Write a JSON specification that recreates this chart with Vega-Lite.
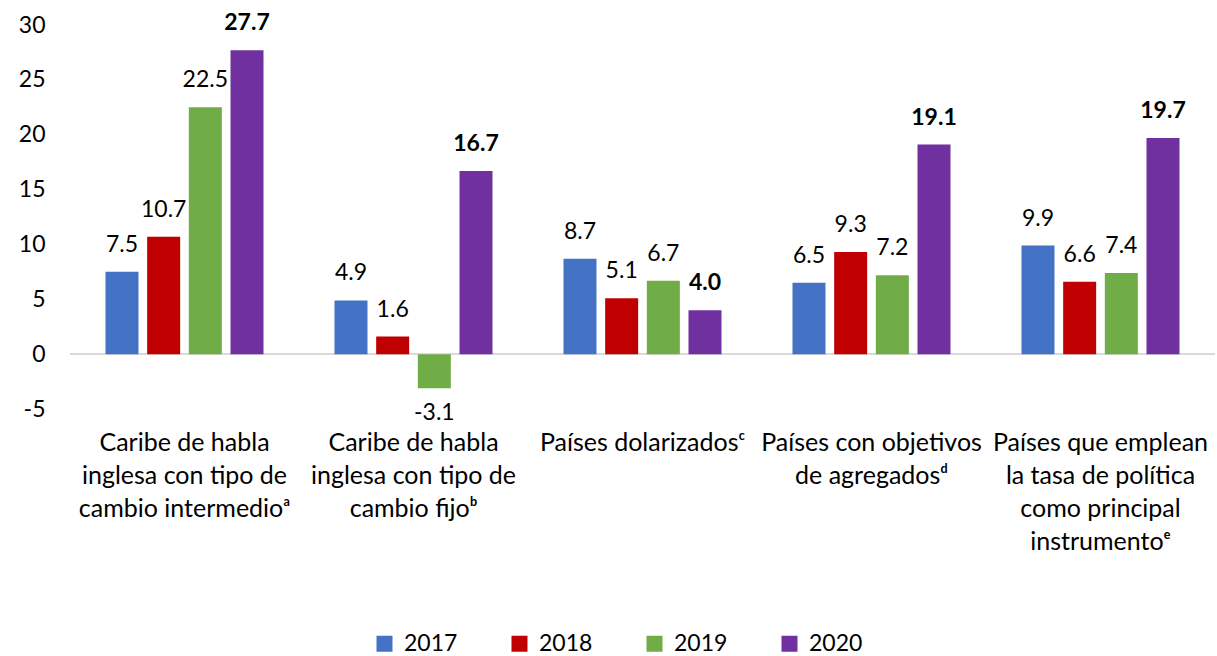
{
  "$schema": "https://vega.github.io/schema/vega-lite/v6.json",
  "width": 1145,
  "height": 384,
  "autosize": {"type": "none"},
  "padding": {"left": 70, "top": 25, "right": 2, "bottom": 247},
  "background": "white",
  "config": {
    "view": {"stroke": null},
    "font": "Lato",
    "axis": {"labelFont": "Lato", "labelColor": "#000000"},
    "legend": {"labelFont": "Lato"}
  },
  "data": {
    "values": [
      {"cat": "Caribe de habla|inglesa con tipo de|cambio intermedioᵃ", "year": "2017", "value": 7.5},
      {"cat": "Caribe de habla|inglesa con tipo de|cambio intermedioᵃ", "year": "2018", "value": 10.7},
      {"cat": "Caribe de habla|inglesa con tipo de|cambio intermedioᵃ", "year": "2019", "value": 22.5},
      {"cat": "Caribe de habla|inglesa con tipo de|cambio intermedioᵃ", "year": "2020", "value": 27.7},
      {"cat": "Caribe de habla|inglesa con tipo de|cambio fijoᵇ", "year": "2017", "value": 4.9},
      {"cat": "Caribe de habla|inglesa con tipo de|cambio fijoᵇ", "year": "2018", "value": 1.6},
      {"cat": "Caribe de habla|inglesa con tipo de|cambio fijoᵇ", "year": "2019", "value": -3.1},
      {"cat": "Caribe de habla|inglesa con tipo de|cambio fijoᵇ", "year": "2020", "value": 16.7},
      {"cat": "Países dolarizadosᶜ", "year": "2017", "value": 8.7},
      {"cat": "Países dolarizadosᶜ", "year": "2018", "value": 5.1},
      {"cat": "Países dolarizadosᶜ", "year": "2019", "value": 6.7},
      {"cat": "Países dolarizadosᶜ", "year": "2020", "value": 4.0},
      {"cat": "Países con objetivos|de agregadosᵈ", "year": "2017", "value": 6.5},
      {"cat": "Países con objetivos|de agregadosᵈ", "year": "2018", "value": 9.3},
      {"cat": "Países con objetivos|de agregadosᵈ", "year": "2019", "value": 7.2},
      {"cat": "Países con objetivos|de agregadosᵈ", "year": "2020", "value": 19.1},
      {"cat": "Países que emplean|la tasa de política|como principal|instrumentoᵉ", "year": "2017", "value": 9.9},
      {"cat": "Países que emplean|la tasa de política|como principal|instrumentoᵉ", "year": "2018", "value": 6.6},
      {"cat": "Países que emplean|la tasa de política|como principal|instrumentoᵉ", "year": "2019", "value": 7.4},
      {"cat": "Países que emplean|la tasa de política|como principal|instrumentoᵉ", "year": "2020", "value": 19.7}
    ]
  },
  "encoding": {
    "x": {
      "field": "cat",
      "type": "nominal",
      "sort": null,
      "scale": {"paddingInner": 0.31, "paddingOuter": 0.155},
      "axis": {
        "title": null,
        "domain": false,
        "ticks": false,
        "labelAngle": 0,
        "labelFontSize": 25,
        "labelBaseline": "top",
        "labelPadding": 21,
        "labelLineHeight": 33,
        "labelLimit": 300,
        "labelExpr": "split(datum.label, '|')"
      }
    },
    "xOffset": {
      "field": "year",
      "type": "nominal",
      "scale": {"paddingInner": 0.208, "paddingOuter": 0}
    },
    "y": {
      "field": "value",
      "type": "quantitative",
      "scale": {"domain": [-5, 30], "nice": false, "zero": false},
      "axis": {
        "title": null,
        "values": [-5, 0, 5, 10, 15, 20, 25, 30],
        "grid": false,
        "domain": false,
        "ticks": false,
        "labelFontSize": 23,
        "labelPadding": 25,
        "labelExpr": "replace(datum.label, '\u2212', '-')"
      }
    }
  },
  "layer": [
    {
      "mark": {"type": "rule", "color": "#d9d9d9", "strokeWidth": 1.5},
      "encoding": {
        "x": null,
        "xOffset": null,
        "y": {"datum": 0, "type": "quantitative"}
      }
    },
    {
      "mark": {"type": "bar"},
      "encoding": {
        "y2": {"datum": 0},
        "color": {
          "field": "year",
          "type": "nominal",
          "scale": {"domain": ["2017", "2018", "2019", "2020"], "range": ["#4472C4", "#C00000", "#70AD47", "#7030A0"]},
          "legend": {
            "title": null,
            "orient": "none",
            "legendX": 303,
            "legendY": 607,
            "direction": "horizontal",
            "columns": 4,
            "symbolType": "square",
            "symbolSize": 256,
            "symbolStrokeWidth": 0,
            "labelFontSize": 23,
            "labelColor": "#000000",
            "labelOffset": 8,
            "columnPadding": 50,
            "padding": 0
          }
        }
      }
    },
    {
      "transform": [
        {"filter": "datum.value >= 0 && datum.year != '2020'"},
        {"calculate": "format(datum.value, '.1f')", "as": "lbl"}
      ],
      "mark": {"type": "text", "fontSize": 23, "color": "#000000", "baseline": "alphabetic", "dy": -20},
      "encoding": {"text": {"field": "lbl", "type": "nominal"}}
    },
    {
      "transform": [
        {"filter": "datum.value >= 0 && datum.year == '2020'"},
        {"calculate": "format(datum.value, '.1f')", "as": "lbl"}
      ],
      "mark": {"type": "text", "fontSize": 23, "fontWeight": "bold", "color": "#000000", "baseline": "alphabetic", "dy": -20},
      "encoding": {"text": {"field": "lbl", "type": "nominal"}}
    },
    {
      "transform": [
        {"filter": "datum.value < 0"},
        {"calculate": "replace(format(datum.value, '.1f'), '\u2212', '-')", "as": "lbl"}
      ],
      "mark": {"type": "text", "fontSize": 23, "color": "#000000", "baseline": "alphabetic", "dy": 32},
      "encoding": {"text": {"field": "lbl", "type": "nominal"}}
    }
  ]
}
